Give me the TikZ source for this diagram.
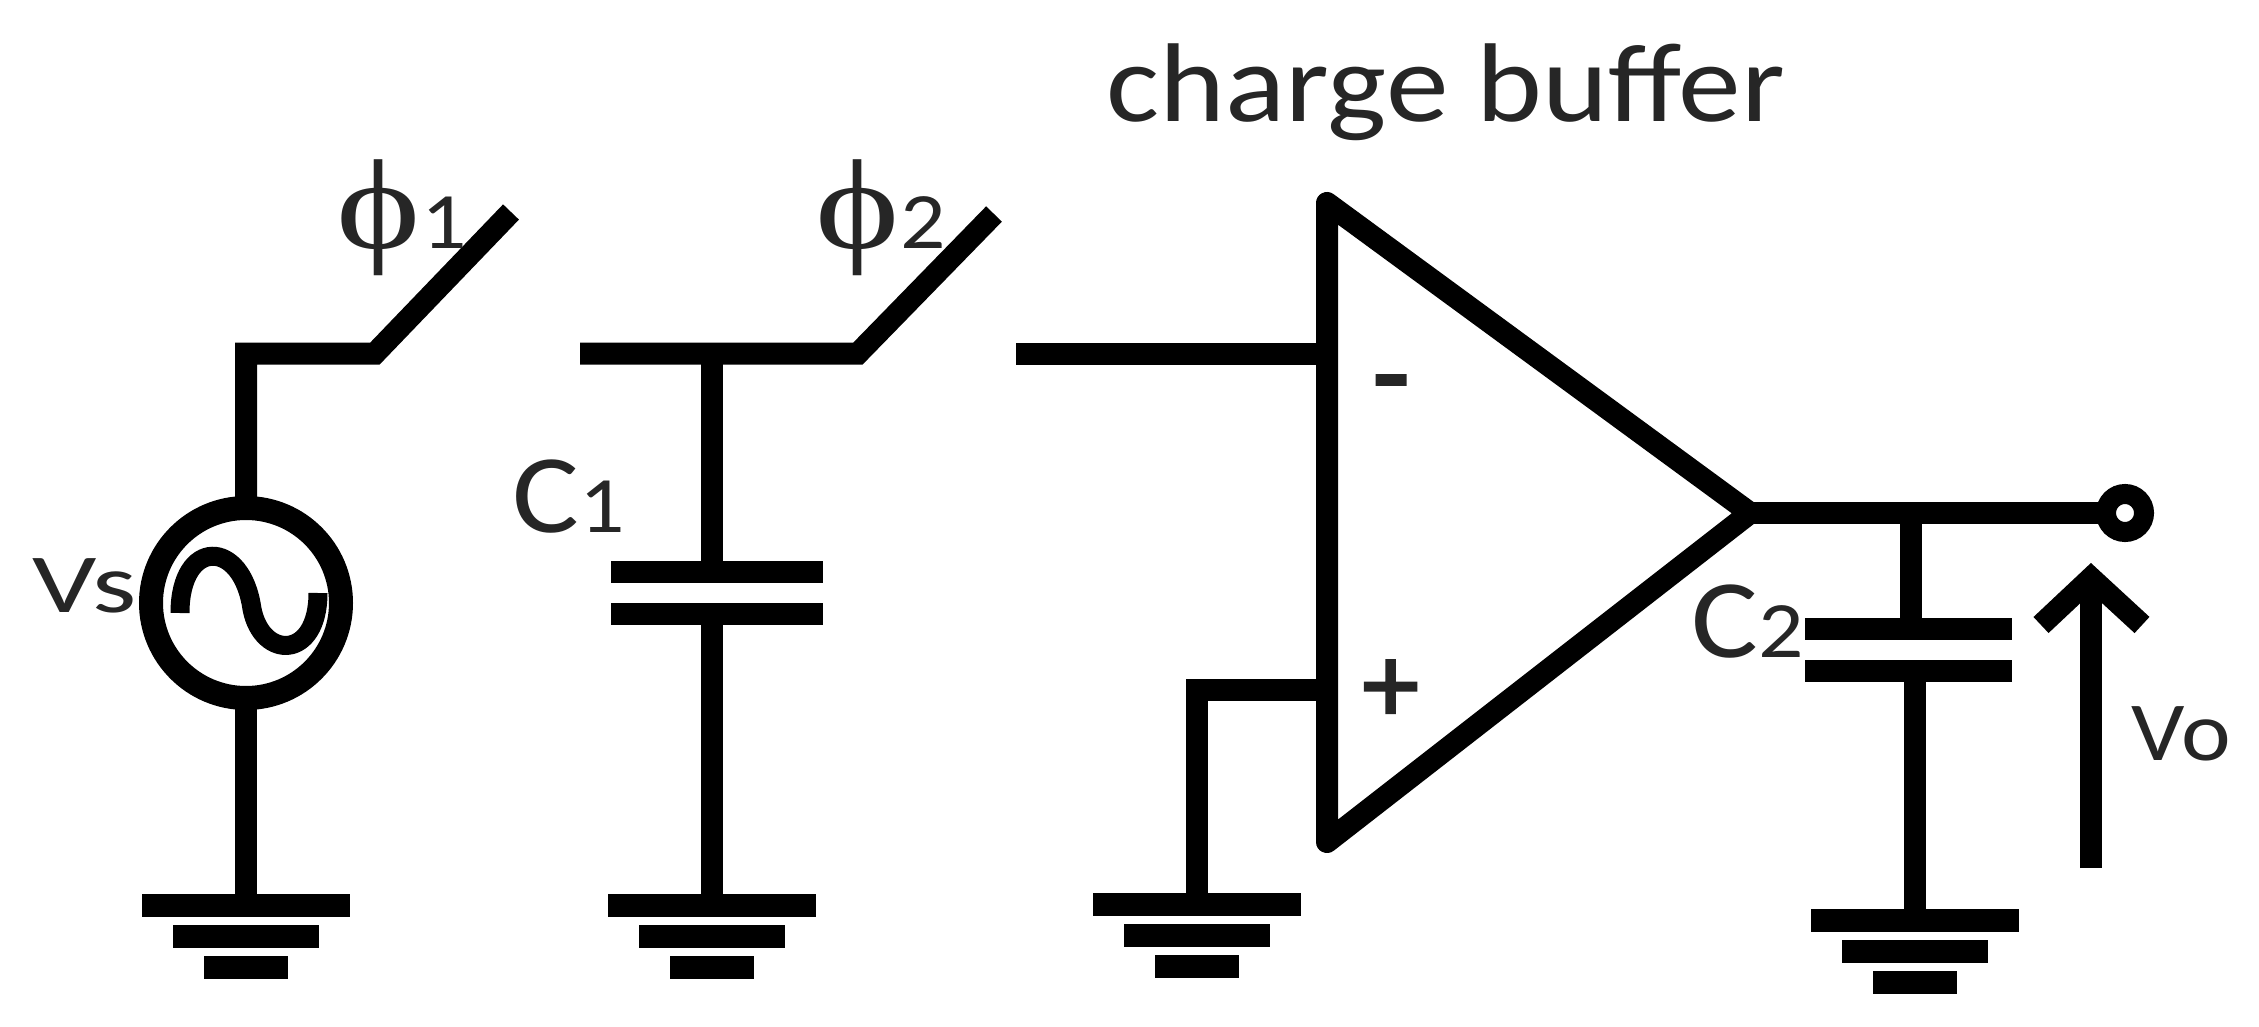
\documentclass[tikz,border=0pt]{standalone}
\usepackage{fontspec}
\usetikzlibrary{calc}
\setmainfont[FakeStretch=1.12]{Carlito}
\newfontfamily\phifont[FakeStretch=1.25]{Liberation Serif}
\newfontfamily\widefont[FakeStretch=1.35]{Carlito}
\newfontfamily\signfont[FakeBold=2.5]{Carlito}
\newcommand{\lbl}[2]{{\fontsize{#1}{#1}\selectfont #2}}
\tikzset{
	wire/.style={line width=5.5pt},
	txt/.style={inner sep=0pt, anchor=base west, text=black!85},
	gnd/.pic={
		\fill (-104,-11.5) rectangle (104,11.5);
		\fill (-73,19.5) rectangle (73,42.5);
		\fill (-42,50.5) rectangle (42,73.5);
	},
}
\begin{document}
\begin{tikzpicture}[x=0.25pt, y=-0.25pt]
	\useasboundingbox (0,0) rectangle (2259,1027);

	% source branch
	\coordinate (g1) at (246,905);
	\coordinate (c1) at (246,353.5);
	\coordinate (p1) at (375,353.5);
	\coordinate (t1) at (511,212);
	\node[circle, draw, line width=6pt, minimum size=190*0.25pt, inner sep=0pt, outer sep=0pt] (vs) at (246,603) {};
	\draw[wire] (g1) -- (vs.south);
	\draw[wire, line join=miter] (vs.north) -- (c1) -- (p1) -- (t1);
	\draw[line width=4.75pt] (180,613) .. controls (180,538) and (242,538) .. (252,609)
		.. controls (262,660) and (318,660) .. (318,593);
	\pic at (g1) {gnd};
	\node[txt] (vslbl) at (32,612) {\lbl{21pt}{\widefont Vs}};
	\node[txt] (ph1) at (336,249) {\lbl{32pt}{\phifont ϕ}\lbl{20pt}{1}};

	% sampling cap
	\coordinate (l2) at (580,353.5);
	\coordinate (j2) at (712,353.5);
	\coordinate (p2) at (858,353.5);
	\coordinate (t2) at (994,214);
	\coordinate (a1) at (717,572);
	\coordinate (a2) at (717,614);
	\coordinate (g2) at (712,905);
	\draw[wire] (l2) -- (p2) -- (t2);
	\draw[wire] (j2) -- (j2 |- a1);
	\draw[wire] ($(a1)+(-106,0)$) -- ($(a1)+(106,0)$);
	\draw[wire] ($(a2)+(-106,0)$) -- ($(a2)+(106,0)$);
	\draw[wire] (j2 |- a2) -- (g2);
	\pic at (g2) {gnd};
	\node[txt] (c1lbl) at (512,532) {\lbl{28pt}{C}\lbl{20pt}{1}};
	\node[txt] (ph2) at (815,249) {\lbl{32pt}{\phifont ϕ}\lbl{20pt}{2}};

	% buffer
	\coordinate (oat) at (1327,203);
	\coordinate (oab) at (1327,842);
	\coordinate (oao) at (1750,513);
	\draw[wire, line join=round] (oat) -- (oao) -- (oab) -- cycle;
	\coordinate (in) at (1016,353.5);
	\coordinate (ip) at (1327,690);
	\coordinate (g3) at (1197,904);
	\draw[wire] (in) -- (in -| oat);
	\draw[wire] (ip) -- (g3 |- ip) -- (g3);
	\pic at (g3) {gnd};
	\node[txt] (minus) at (1372,414) {\lbl{30pt}{\signfont -}};
	\node[txt] (plus) at (1362,722) {\lbl{28pt}{\signfont +}};
	\node[txt] (title) at (1106,122) {\lbl{28pt}{charge buffer}};

	% output
	\node[circle, draw, line width=5pt, minimum size=38*0.25pt, inner sep=0pt, outer sep=0pt] (vo) at (2125,513) {};
	\coordinate (j3) at (1911,513);
	\coordinate (b1) at (1908,629);
	\coordinate (b2) at (1908,671);
	\coordinate (g4) at (1915,920);
	\draw[wire] (oao) -- (vo.west);
	\draw[wire] (j3) -- (j3 |- b1);
	\draw[wire] ($(b1)+(-103,0)$) -- ($(b1)+(104,0)$);
	\draw[wire] ($(b2)+(-103,0)$) -- ($(b2)+(104,0)$);
	\draw[wire] (g4 |- b2) -- (g4);
	\pic at (g4) {gnd};
	\node[txt] (c2lbl) at (1691,657) {\lbl{28pt}{C}\lbl{20pt}{2}};

	\coordinate (ab) at (2091,868);
	\coordinate (at) at (2091,578);
	\coordinate (al) at (2041,625);
	\coordinate (ar) at (2142,625);
	\draw[wire] (ab) -- (at);
	\draw[wire, line join=miter] (al) -- (at) -- (ar);
	\node[txt] (volbl) at (2131,760) {\lbl{21pt}{Vo}};
\end{tikzpicture}
\end{document}
